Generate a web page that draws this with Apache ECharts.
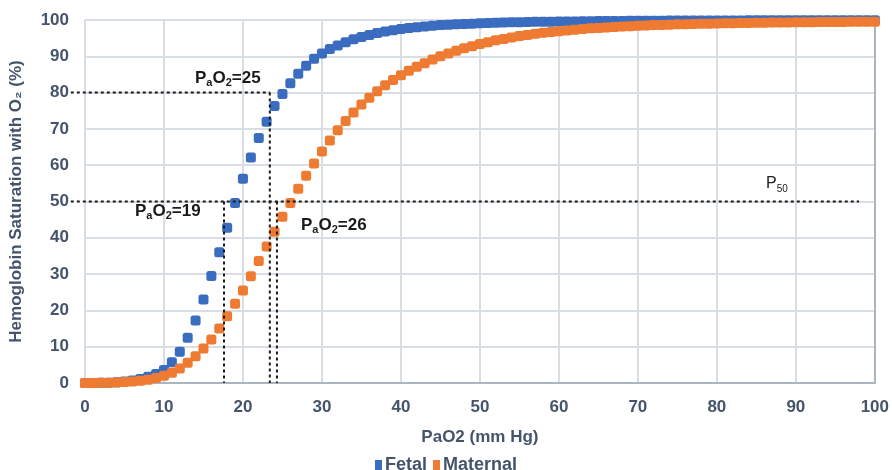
<!DOCTYPE html>
<html>
<head>
<meta charset="utf-8">
<script src="https://cdn.jsdelivr.net/npm/echarts@6/dist/echarts.min.js"></script>
<style>
  html, body { margin: 0; padding: 0; background: #fff; }
  #oxy { width: 892px; height: 470px; }
</style>
</head>
<body>
<div id="oxy"></div>
<script>
var pao2 = [0,1,2,3,4,5,6,7,8,9,10,11,12,13,14,15,16,17,18,19,20,21,22,23,24,25,26,27,28,29,30,
  31,32,33,34,35,36,37,38,39,40,41,42,43,44,45,46,47,48,49,50,51,52,53,54,55,56,57,58,59,60,
  61,62,63,64,65,66,67,68,69,70,71,72,73,74,75,76,77,78,79,80,81,82,83,84,85,86,87,88,89,90,
  91,92,93,94,95,96,97,98,99,100];

var fetal = [0,0.02,0.05,0.1,0.2,0.4,0.7,1.1,1.7,2.5,3.6,5.7,8.6,12.5,17.2,23,29.5,36,42.8,49.6,56.3,
  62.1,67.5,72,76.3,79.6,82.6,85.2,87.4,89.3,90.8,
  92.0,93.0,93.9,94.7,95.3,95.9,96.4,96.8,97.2,97.5,
  97.8,98.0,98.2,98.4,98.6,98.7,98.8,98.9,99.0,99.1,
  99.2,99.25,99.3,99.35,99.4,99.45,99.5,99.52,99.55,99.58,
  99.6,99.62,99.65,99.67,99.7,99.72,99.74,99.75,99.77,99.78,
  99.8,99.81,99.82,99.83,99.84,99.85,99.86,99.86,99.87,99.88,
  99.88,99.89,99.89,99.9,99.9,99.91,99.91,99.92,99.92,99.92,
  99.93,99.93,99.93,99.94,99.94,99.94,99.95,99.95,99.95,99.95];

var maternal = [0,0.02,0.05,0.1,0.15,0.25,0.4,0.6,0.9,1.4,2.0,2.8,4.0,5.6,7.4,9.5,12.0,15.0,18.4,21.8,25.5,
  29.4,33.6,37.6,41.7,45.8,49.6,53.5,57.1,60.5,63.8,
  66.8,69.6,72.2,74.5,76.7,78.6,80.4,82.0,83.5,84.8,
  86.0,87.1,88.1,89.1,90.0,90.8,91.5,92.2,92.8,93.4,
  93.9,94.4,94.8,95.2,95.6,95.9,96.2,96.5,96.7,96.9,
  97.1,97.3,97.5,97.7,97.8,97.95,98.1,98.2,98.3,98.4,
  98.5,98.6,98.65,98.7,98.8,98.85,98.9,98.95,99.0,99.05,
  99.1,99.12,99.15,99.2,99.22,99.25,99.28,99.3,99.32,99.35,
  99.37,99.4,99.42,99.44,99.46,99.48,99.5,99.51,99.52,99.53];

// dashed guide lines in data units: [x1, y1, x2, y2]
var guides = [
  [-1.8, 80, 23.4, 80],
  [23.4, 80, 23.4, 0],
  [-1.8, 50, 98, 50],
  [17.6, 50, 17.6, 0],
  [24.3, 50, 24.3, 0]
];

function pairs(ys) {
  return pao2.map(function (x, i) { return [x, ys[i]]; });
}

var labelColor = '#44546a';
var font = '"Liberation Sans Narrow", "Liberation Sans", Arial, sans-serif';

var myChart = echarts.init(document.getElementById('oxy'));

var richBold = {
  m: { fontSize: 17, fontWeight: 'bold', fontFamily: 'Liberation Sans', fill: '#1a1a1a', lineHeight: 20, verticalAlign: 'middle' },
  s: { fontSize: 11, fontWeight: 'bold', fontFamily: 'Liberation Sans', fill: '#1a1a1a', lineHeight: 10, verticalAlign: 'bottom' }
};
var richPlain = {
  m: { fontSize: 16, fontFamily: 'Liberation Sans', fill: '#222', lineHeight: 20, verticalAlign: 'middle' },
  s: { fontSize: 10, fontFamily: 'Liberation Sans', fill: '#222', lineHeight: 10, verticalAlign: 'bottom' }
};

option = {
  animation: false,
  grid: { left: 84, right: 17, top: 20, bottom: 87 },
  legend: {
    top: 451,
    left: 'center',
    icon: 'rect',
    itemWidth: 7,
    itemHeight: 10,
    itemGap: 6,
    textStyle: { color: labelColor, fontSize: 18, fontWeight: 'bold', fontFamily: font, padding: [0, 0, 0, -2] },
    data: ['Fetal', 'Maternal']
  },
  xAxis: {
    type: 'value',
    min: 0, max: 100, interval: 10,
    name: 'PaO2 (mm Hg)',
    nameLocation: 'middle',
    nameGap: 46,
    nameTextStyle: { color: labelColor, fontSize: 17, fontWeight: 'bold', fontFamily: font },
    axisLine: { lineStyle: { color: '#aab5c2', width: 2 } },
    axisTick: { show: false },
    axisLabel: { color: labelColor, fontSize: 17, fontWeight: 'bold', fontFamily: font, margin: 16 },
    splitLine: { show: true, lineStyle: { color: '#d9dee4', width: 2 } }
  },
  yAxis: [{
    type: 'value',
    min: 0, max: 100, interval: 10,
    name: 'Hemoglobin Saturation with O\u2082 (%)',
    nameLocation: 'middle',
    nameGap: 60,
    nameTextStyle: { color: labelColor, fontSize: 17, fontWeight: 'bold', fontFamily: font },
    axisLine: { show: false },
    axisTick: { show: false },
    axisLabel: { color: labelColor, fontSize: 17, fontWeight: 'bold', fontFamily: font, margin: 16 },
    splitLine: { lineStyle: { color: '#d9dee4', width: 2 } }
  }, {
    type: 'value',
    position: 'right',
    min: 0, max: 100, interval: 10,
    axisLine: { show: true, lineStyle: { color: '#aab5c2', width: 2 } },
    axisTick: { show: false },
    axisLabel: { show: false },
    splitLine: { show: false }
  }],
  series: [{
    name: 'Fetal',
    type: 'scatter',
    symbol: 'roundRect',
    symbolSize: 10,
    itemStyle: { color: '#3a6cc0', opacity: 1 },
    data: pairs(fetal)
  }, {
    name: 'Maternal',
    type: 'scatter',
    symbol: 'roundRect',
    symbolSize: 10,
    itemStyle: { color: '#ef7b32', opacity: 1 },
    data: pairs(maternal)
  }]
};

myChart.setOption(option);

// dashed guides and their labels, placed through the chart's own scales
var graphics = guides.map(function (g) {
  var p1 = myChart.convertToPixel({ gridIndex: 0 }, [g[0], g[1]]);
  var p2 = myChart.convertToPixel({ gridIndex: 0 }, [g[2], g[3]]);
  return {
    type: 'line', silent: true, z: 10,
    shape: { x1: p1[0], y1: p1[1], x2: p2[0], y2: p2[1] },
    style: { stroke: '#1a1a1a', lineWidth: 2, lineDash: [3, 3] }
  };
});
graphics.push(
  { type: 'text', left: 195, top: 70, z: 11, style: { text: '{m|P}{s|a}{m|O}{s|2}{m|=25}', rich: richBold } },
  { type: 'text', left: 135, top: 203, z: 11, style: { text: '{m|P}{s|a}{m|O}{s|2}{m|=19}', rich: richBold } },
  { type: 'text', left: 301, top: 217, z: 11, style: { text: '{m|P}{s|a}{m|O}{s|2}{m|=26}', rich: richBold } },
  { type: 'text', left: 766, top: 176, z: 11, style: { text: '{m|P}{s|50}', rich: richPlain } }
);
myChart.setOption({ graphic: graphics });
</script>
</body>
</html>
